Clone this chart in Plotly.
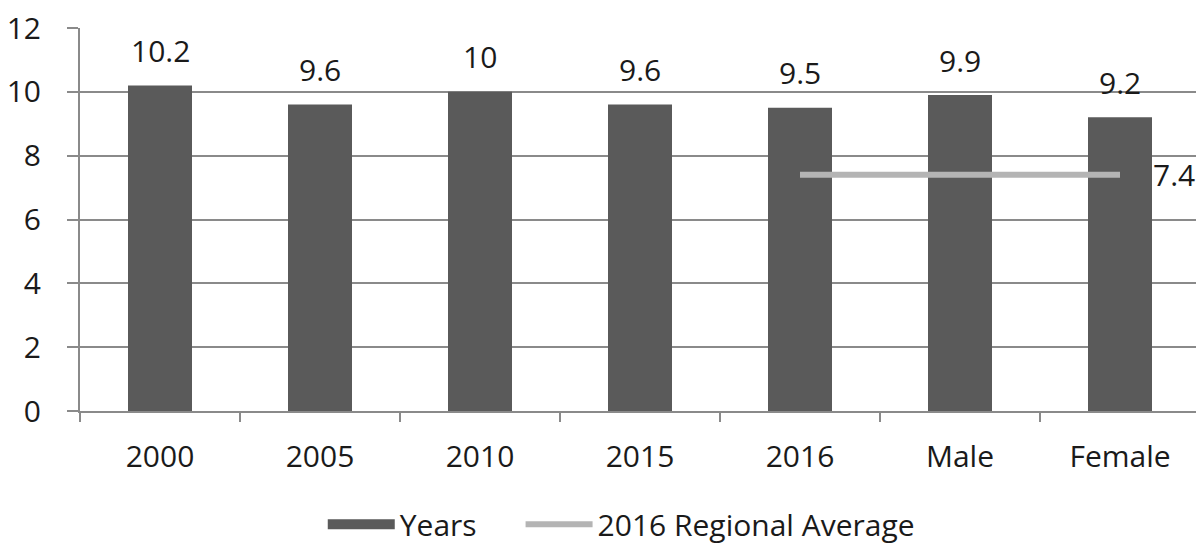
import plotly.graph_objects as go

categories = ["2000", "2005", "2010", "2015", "2016", "Male", "Female"]
years_values = [10.2, 9.6, 10, 9.6, 9.5, 9.9, 9.2]
bar_labels = ["10.2", "9.6", "10", "9.6", "9.5", "9.9", "9.2"]
regional_avg = [None, None, None, None, 7.4, 7.4, 7.4]
regional_label = "7.4"
y_ticks = [0, 2, 4, 6, 8, 10, 12]

FONT = "Open Sans"
TXT = "#1a1a1a"
GRID = "#8a8a8a"
BAR = "#5a5a5a"
FS = 30
NB = "\u00a0"

fig = go.Figure()
fig.add_trace(go.Bar(
    x=categories, y=years_values, name="Years", showlegend=False, legendgroup="years",
    marker=dict(color=BAR, line=dict(width=0)), width=0.4,
))
# legend key for the bars (wide block like the original)
fig.add_trace(go.Scatter(
    x=[None], y=[None], name="Years" + NB * 5, mode="lines", legendgroup="years",
    line=dict(color=BAR, width=18),
))
fig.add_trace(go.Scatter(
    x=categories, y=regional_avg, name="2016 Regional Average",
    mode="lines", line=dict(color="#b4b4b4", width=6), connectgaps=False,
))

annotations = []
for i, (v, t) in enumerate(zip(years_values, bar_labels)):
    annotations.append(dict(x=i, y=v, xref="x", yref="y", text=t, showarrow=False,
                            yanchor="middle", yshift=35,
                            font=dict(family=FONT, size=FS, color=TXT)))
last = len(categories) - 1
annotations.append(dict(x=last, y=regional_avg[last], xref="x", yref="y",
                        text=regional_label, showarrow=False, xanchor="left",
                        yanchor="middle", xshift=31,
                        font=dict(family=FONT, size=FS, color=TXT)))

fig.update_layout(
    width=1196, height=545,
    margin=dict(l=80, r=0, t=28, b=134, autoexpand=False),
    paper_bgcolor="white", plot_bgcolor="white",
    font=dict(family=FONT, size=FS, color=TXT),
    bargap=0.6,
    showlegend=True,
    legend=dict(orientation="h", x=0.485, xanchor="center",
                yref="container", y=0.038, yanchor="middle",
                font=dict(family=FONT, size=FS, color=TXT), itemwidth=67,
                bgcolor="rgba(0,0,0,0)"),
    annotations=annotations,
)
fig.update_xaxes(
    type="category", range=[-0.5, 6.475],
    showline=True, linecolor=GRID, linewidth=2,
    ticks="outside", tickson="boundaries", ticklen=9, tickcolor=GRID, tickwidth=2,
    showgrid=False, ticklabelstandoff=18,
    tickfont=dict(family=FONT, size=FS, color=TXT),
)
fig.update_yaxes(
    range=[0, 12], tickvals=y_ticks,
    showgrid=True, gridcolor=GRID, gridwidth=2,
    showline=True, linecolor=GRID, linewidth=2,
    ticks="outside", ticklen=11, tickcolor=GRID, tickwidth=2,
    zeroline=False, ticklabelstandoff=20,
    tickfont=dict(family=FONT, size=FS, color=TXT),
)

fig.write_html("out.html")
